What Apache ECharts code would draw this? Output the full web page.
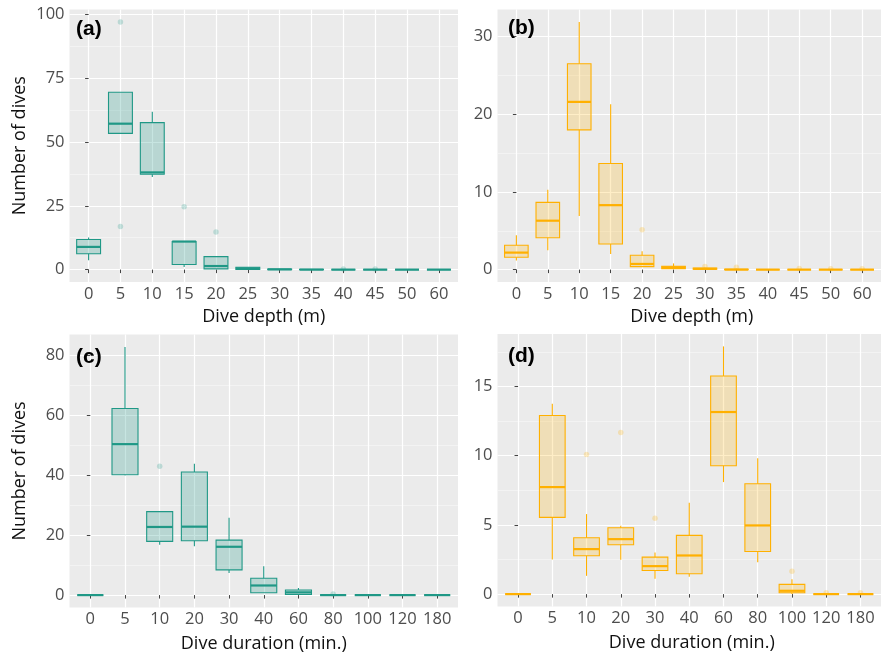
<!DOCTYPE html>
<html><head><meta charset="utf-8">
<script src="https://cdn.jsdelivr.net/npm/echarts@6/dist/echarts.min.js"></script>
<style>html,body{margin:0;padding:0;background:#fff}#c{width:881px;height:655px}</style>
</head><body><div id="c"></div>
<script>
// ---------- data ----------
const depthCats = ['0','5','10','15','20','25','30','35','40','45','50','60'];
const durationCats = ['0','5','10','20','30','40','60','80','100','120','180'];

// each row: [lower whisker, Q1, median, Q3, upper whisker]
const boxesA = [
  [3.7, 6.2, 8.9, 11.8, 12.6],
  [53.4, 53.4, 57.2, 69.5, 69.5],
  [36.3, 37.4, 38.1, 57.6, 61.9],
  [1.0, 2.0, 11.0, 11.0, 11.0],
  [0.3, 0.3, 1.4, 5.1, 5.1],
  [0, 0.1, 0.5, 0.9, 0.9],
  [0, 0, 0.1, 0.2, 0.2],
  [0, 0, 0, 0.1, 0.1],
  [0, 0, 0, 0, 0],
  [0, 0, 0, 0, 0],
  [0, 0, 0, 0, 0],
  [0, 0, 0, 0, 0]
];
const outliersA = [[1, 97.1], [1, 16.9], [3, 24.6], [4, 14.7], [8, 0.2], [9, 0.2]];

const boxesB = [
  [1.16, 1.59, 2.19, 3.13, 4.41],
  [2.49, 4.11, 6.3, 8.66, 10.29],
  [6.9, 18.0, 21.6, 26.5, 31.9],
  [2.0, 3.3, 8.3, 13.67, 21.3],
  [0.39, 0.39, 0.73, 1.84, 2.36],
  [0.1, 0.13, 0.3, 0.43, 0.8],
  [0, 0.05, 0.1, 0.2, 0.25],
  [0, 0, 0, 0.05, 0.1],
  [0, 0, 0, 0, 0],
  [0, 0, 0, 0, 0.05],
  [0, 0, 0, 0, 0],
  [0, 0, 0, 0, 0]
];
const outliersB = [[4, 5.14], [6, 0.4], [7, 0.3], [9, 0.15], [10, 0.1], [11, 0.1]];

const boxesC = [
  [0, 0, 0, 0, 0],
  [39.9, 40.1, 50.3, 62.2, 82.7],
  [16.8, 17.9, 22.7, 27.8, 27.8],
  [16.3, 18.1, 22.8, 41.0, 43.8],
  [7.4, 8.4, 16.1, 18.3, 25.8],
  [0.8, 0.8, 3.2, 5.6, 9.6],
  [0.2, 0.2, 0.9, 1.7, 2.4],
  [0, 0, 0, 0, 0],
  [0, 0, 0, 0, 0],
  [0, 0, 0, 0, 0],
  [0, 0, 0, 0, 0]
];
const outliersC = [[2, 42.9], [7, 0.4]];

const boxesD = [
  [0, 0, 0, 0, 0],
  [2.5, 5.54, 7.73, 12.9, 13.75],
  [1.32, 2.77, 3.25, 4.07, 5.78],
  [2.48, 3.56, 3.97, 4.79, 4.94],
  [1.11, 1.71, 2.02, 2.67, 3.01],
  [1.25, 1.47, 2.79, 4.24, 6.6],
  [8.09, 9.27, 13.15, 15.75, 17.89],
  [2.31, 3.08, 4.96, 7.97, 9.82],
  [0, 0.1, 0.24, 0.7, 1.08],
  [0, 0, 0, 0, 0],
  [0, 0, 0, 0, 0]
];
const outliersD = [[2, 10.09], [3, 11.68], [4, 5.47], [8, 1.66], [9, 0.1], [10, 0.1]];

const yTicksA = [0, 25, 50, 75, 100];
const yMinorA = [12.5, 37.5, 62.5, 87.5];
const yTicksB = [0, 10, 20, 30];
const yMinorB = [5, 15, 25];
const yTicksC = [0, 20, 40, 60, 80];
const yMinorC = [10, 30, 50, 70];
const yTicksD = [0, 5, 10, 15];
const yMinorD = [2.5, 7.5, 12.5, 17.5];

const labels = ['(a)', '(b)', '(c)', '(d)'];
const yTitle = 'Number of dives';
const xTitleDepth = 'Dive depth (m)';
const xTitleDuration = 'Dive duration (min.)';

// ---------- styling / layout ----------
const TEAL = '#1f9886';
const TEAL_FILL = 'rgba(31,152,134,0.25)';
const TEAL_PT = 'rgba(31,152,134,0.3)';
const ORANGE = '#ffb000';
const ORANGE_FILL = 'rgba(255,176,0,0.22)';
const ORANGE_PT = 'rgba(255,176,0,0.3)';
const FONT = "'Open Sans', 'DejaVu Sans', sans-serif";

const panels = [
  {cats: depthCats, boxes: boxesA, out: outliersA, ticks: yTicksA, minor: yMinorA, color: TEAL, fill: TEAL_FILL, pt: TEAL_PT,
   grid: {left: 69.5, top: 9.5, width: 388.5, height: 272.5}},
  {cats: depthCats, boxes: boxesB, out: outliersB, ticks: yTicksB, minor: yMinorB, color: ORANGE, fill: ORANGE_FILL, pt: ORANGE_PT,
   grid: {left: 497.5, top: 9.5, width: 388.5, height: 272.5}},
  {cats: durationCats, boxes: boxesC, out: outliersC, ticks: yTicksC, minor: yMinorC, color: TEAL, fill: TEAL_FILL, pt: TEAL_PT,
   grid: {left: 69.5, top: 334.5, width: 388.5, height: 273}},
  {cats: durationCats, boxes: boxesD, out: outliersD, ticks: yTicksD, minor: yMinorD, color: ORANGE, fill: ORANGE_FILL, pt: ORANGE_PT,
   grid: {left: 497.5, top: 334, width: 388.5, height: 272.5}}
];

function extentOf(p) {
  let lo = Infinity, hi = -Infinity;
  p.boxes.forEach(b => b.forEach(v => { lo = Math.min(lo, v); hi = Math.max(hi, v); }));
  p.out.forEach(o => { lo = Math.min(lo, o[1]); hi = Math.max(hi, o[1]); });
  const pad = (hi - lo) * 0.05;
  return [lo - pad, hi + pad];
}

function boxRender(color, fill) {
  return function (params, api) {
    const x = api.value(0);
    const lo = api.value(1), q1 = api.value(2), md = api.value(3), q3 = api.value(4), hi = api.value(5);
    const half = api.size([0.75, 0])[0] / 2;
    const cx = api.coord([x, 0])[0];
    const yLo = api.coord([x, lo])[1], yQ1 = api.coord([x, q1])[1], yMd = api.coord([x, md])[1];
    const yQ3 = api.coord([x, q3])[1], yHi = api.coord([x, hi])[1];
    return {
      type: 'group',
      children: [
        {type: 'line', shape: {x1: cx, y1: yQ3, x2: cx, y2: yHi}, style: {stroke: color, lineWidth: 1.1}},
        {type: 'line', shape: {x1: cx, y1: yQ1, x2: cx, y2: yLo}, style: {stroke: color, lineWidth: 1.1}},
        {type: 'rect', shape: {x: cx - half, y: yQ3, width: 2 * half, height: yQ1 - yQ3},
         style: {fill: fill, stroke: color, lineWidth: 1.1}},
        {type: 'line', shape: {x1: cx - half, y1: yMd, x2: cx + half, y2: yMd}, style: {stroke: color, lineWidth: 2.2}}
      ]
    };
  };
}

const grids = [], xAxes = [], yAxes = [], series = [];
panels.forEach((p, i) => {
  const idx = p.cats.map((c, k) => k);
  const ext = extentOf(p);
  grids.push(Object.assign({show: true, backgroundColor: '#ebebeb', borderWidth: 0, containLabel: false}, p.grid));
  xAxes.push({
    type: 'value', gridIndex: i, min: -0.6, max: p.cats.length - 1 + 0.6,
    axisLine: {show: false},
    axisTick: {show: true, length: 3.5, customValues: idx, lineStyle: {color: '#444444', width: 1}},
    axisLabel: {show: true, customValues: idx, formatter: v => p.cats[Math.round(v)], color: '#4d4d4d',
                fontSize: 16.5, fontFamily: FONT, margin: 3.5},
    splitLine: {show: true, lineStyle: {color: '#ffffff', width: 1.2}}
  });
  yAxes.push({
    type: 'value', gridIndex: i, min: ext[0], max: ext[1],
    axisLine: {show: false},
    axisTick: {show: true, length: 3.5, customValues: p.ticks, lineStyle: {color: '#444444', width: 1}},
    axisLabel: {show: true, customValues: p.ticks, color: '#4d4d4d', fontSize: 16.5, fontFamily: FONT, margin: 5},
    splitLine: {show: true, lineStyle: {color: '#ffffff', width: 1.2}}
  });
  yAxes.push({
    type: 'value', gridIndex: i, min: ext[0], max: ext[1], position: 'left',
    axisLine: {show: false},
    axisTick: {show: false, customValues: p.minor},
    axisLabel: {show: false},
    splitLine: {show: true, lineStyle: {color: '#f7f7f7', width: 0.7}}
  });
  series.push({
    type: 'custom', xAxisIndex: i, yAxisIndex: 2 * i,
    renderItem: boxRender(p.color, p.fill),
    encode: {x: 0, y: [1, 2, 3, 4, 5]},
    data: p.boxes.map((b, k) => [k].concat(b)),
    z: 3, silent: true
  });
  series.push({
    type: 'scatter', xAxisIndex: i, yAxisIndex: 2 * i,
    data: p.out, symbolSize: 5.5,
    itemStyle: {color: p.pt}, z: 2, silent: true
  });
});

const graphics = [];
const labelPos = [[76, 29], [508, 28], [76, 357], [508, 356]];
labels.forEach((t, i) => graphics.push({
  type: 'text', x: labelPos[i][0], y: labelPos[i][1], z: 10,
  style: {text: t, font: "bold 21px 'Liberation Sans', Arial, sans-serif", fill: '#000', align: 'left', verticalAlign: 'middle'}
}));
[[20, 145.75], [20, 471]].forEach(pos => graphics.push({
  type: 'text', x: pos[0], y: pos[1], rotation: Math.PI / 2, z: 10,
  style: {text: yTitle, font: "18px " + FONT, fill: '#111', align: 'center', verticalAlign: 'middle'}
}));
[[263.75, 317, xTitleDepth], [691.75, 317, xTitleDepth], [263.75, 643.5, xTitleDuration], [691.75, 643, xTitleDuration]]
  .forEach(a => graphics.push({
    type: 'text', x: a[0], y: a[1], z: 10,
    style: {text: a[2], font: "18px " + FONT, fill: '#111', align: 'center', verticalAlign: 'middle'}
  }));

const chart = echarts.init(document.getElementById('c'), null, {renderer: 'canvas'});
chart.setOption({
  animation: false,
  backgroundColor: '#ffffff',
  grid: grids, xAxis: xAxes, yAxis: yAxes, series: series, graphic: graphics
});
</script></body></html>
